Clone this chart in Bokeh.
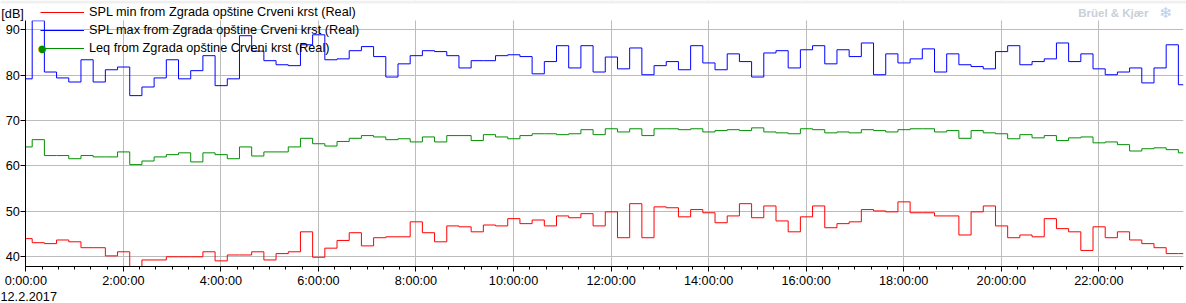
import numpy as np
from bokeh.plotting import figure
from bokeh.models import Range1d, FixedTicker, Legend, LegendItem, Label, BoxAnnotation
from bokeh.embed import file_html
from bokeh.resources import INLINE

# ---- data -------------------------------------------------------------
# 15-minute intervals; first interval starts 0.119 h before midnight
interval_start_h = -0.119
interval_len_h = 0.25

spl_max = [79.2, 92.0, 80.7, 79.4, 78.5, 83.4, 78.5, 81.2, 81.8, 75.5, 77.4, 79.4,
           83.4, 79.2, 81.0, 84.3, 77.7, 79.2, 88.7, 85.3, 83.2, 82.3, 82.1, 86.7,
           88.9, 83.4, 83.6, 85.4, 86.3, 84.1, 79.6, 82.5, 84.3, 85.4, 85.2, 84.3,
           81.6, 83.2, 83.2, 84.3, 84.5, 84.1, 80.3, 83.0, 86.5, 81.6, 86.5, 80.7,
           84.0, 81.4, 86.0, 80.1, 82.1, 83.0, 81.2, 86.5, 82.7, 81.2, 84.7, 83.0,
           79.6, 84.9, 85.4, 81.6, 85.6, 86.5, 82.5, 85.6, 84.1, 87.1, 80.1, 84.7,
           82.7, 83.6, 85.8, 80.7, 84.7, 82.3, 81.9, 81.4, 85.2, 86.5, 82.3, 83.0,
           83.6, 87.1, 83.0, 84.7, 81.4, 80.1, 80.7, 81.6, 78.3, 81.6, 86.7, 77.9]

leq = [64.2, 65.8, 62.3, 62.3, 61.6, 62.3, 62.0, 62.0, 63.1, 60.3, 61.1, 62.0,
       62.5, 62.9, 60.9, 62.9, 62.5, 61.6, 64.2, 62.2, 63.1, 63.1, 64.2, 66.1,
       64.9, 64.4, 65.4, 66.1, 66.7, 66.4, 65.8, 66.0, 65.3, 66.4, 65.3, 66.7,
       66.7, 65.6, 66.9, 66.4, 66.0, 66.7, 67.1, 67.1, 66.9, 67.1, 68.0, 66.9,
       68.2, 67.5, 68.2, 66.7, 68.2, 68.2, 68.0, 68.2, 67.5, 67.8, 68.0, 67.8,
       68.4, 67.5, 67.3, 67.1, 68.2, 68.0, 67.3, 67.5, 67.3, 68.0, 67.8, 67.5,
       68.0, 68.2, 68.2, 67.5, 67.8, 66.1, 67.8, 67.3, 67.1, 66.0, 66.9, 66.2,
       66.7, 65.6, 66.2, 66.4, 65.1, 65.3, 64.7, 63.3, 63.8, 64.0, 63.6, 62.9]

spl_min = [44.0, 43.1, 42.9, 43.7, 43.3, 42.0, 42.0, 40.2, 41.1, 37.0, 39.3, 39.3,
           40.0, 40.0, 40.0, 41.1, 39.1, 40.4, 40.4, 41.1, 39.3, 40.7, 41.1, 45.5,
           39.9, 41.9, 43.6, 45.3, 42.4, 44.2, 44.4, 44.4, 47.7, 45.3, 43.3, 46.8,
           46.6, 45.5, 47.0, 46.8, 48.4, 47.3, 48.1, 46.8, 49.0, 48.6, 49.5, 46.8,
           49.9, 44.2, 51.7, 44.2, 51.0, 50.8, 48.8, 50.4, 49.7, 47.5, 49.0, 51.7,
           48.6, 51.2, 47.9, 45.5, 48.8, 51.2, 46.4, 47.3, 47.7, 50.4, 50.1, 49.9,
           52.1, 49.7, 49.7, 49.0, 49.0, 44.8, 49.9, 51.2, 46.8, 44.2, 44.8, 44.4,
           48.4, 46.2, 45.5, 41.4, 46.6, 44.2, 45.5, 43.7, 42.9, 42.0, 40.7, 40.7]

x_ticks_h = [0, 2, 4, 6, 8, 10, 12, 14, 16, 18, 20, 22]
x_tick_labels = ["0:00:00", "2:00:00", "4:00:00", "6:00:00", "8:00:00", "10:00:00",
                 "12:00:00", "14:00:00", "16:00:00", "18:00:00", "20:00:00", "22:00:00"]
y_ticks = [40, 50, 60, 70, 80, 90]
x_lim = (0.0, 23.73)
y_lim = (37.86, 92.05)
date_label = "12.2.2017"
unit_label = "[dB]"
brand_label = "Brüel & Kjær"
series_names = ["SPL min from Zgrada opštine Crveni krst (Real)",
                "SPL max from Zgrada opštine Crveni krst (Real)",
                "Leq from Zgrada opštine Crveni krst (Real)"]

# ---- layout (pixels) --------------------------------------------------
W, H = 1186, 303
PL, PR, PT, PB = 25.3, 1182.7, 20.0, 266.0      # plotting area inside the canvas
kx = (PR - PL) / (x_lim[1] - x_lim[0])
ky = (PB - PT) / (y_lim[1] - y_lim[0])
xr = Range1d(x_lim[0] - PL / kx, x_lim[1] + (W - PR) / kx)
yr = Range1d(y_lim[0] - (H - PB) / ky, y_lim[1] + PT / ky)

FONT = "Liberation Sans"
FS = "12.7px"

p = figure(width=W, height=H, output_backend="svg", toolbar_location=None,
           x_range=xr, y_range=yr,
           min_border_left=0, min_border_right=0, min_border_top=0, min_border_bottom=0)
p.outline_line_color = None
p.background_fill_color = "white"
p.border_fill_color = "white"

def step_xy(vals):
    n = len(vals)
    xs = interval_start_h + interval_len_h * np.arange(n + 1)
    ys = list(vals) + [vals[-1]]
    return xs, ys

xs, ys = step_xy(spl_min)
r_min = p.step(xs, ys, mode="after", line_color="#ff0000", line_width=1)
xs, ys = step_xy(spl_max)
r_max = p.step(xs, ys, mode="after", line_color="#0000ff", line_width=1)
xs, ys = step_xy(leq)
r_leq = p.step(xs, ys, mode="after", line_color="#008f00", line_width=1)

# white masks around the plotting area (drawn above glyphs, below axes)
for kw in (dict(right=x_lim[0]), dict(left=x_lim[1]),
           dict(bottom=y_lim[1]), dict(top=y_lim[0])):
    p.add_layout(BoxAnnotation(fill_color="white", fill_alpha=1, line_color=None,
                               level="glyph", **kw))
p.add_layout(BoxAnnotation(bottom=yr.end - 3 / ky, fill_color="#f0f0f0", fill_alpha=1,
                           line_color=None, level="glyph"))

# axes, fixed at the plotting-area edges
xa = p.xaxis[0]
xa.fixed_location = y_lim[0]
xa.bounds = x_lim
xa.ticker = FixedTicker(ticks=x_ticks_h, minor_ticks=[k / 3 for k in range(72)])
xa.major_label_overrides = {t: l for t, l in zip(x_ticks_h, x_tick_labels)}
ya = p.yaxis[0]
ya.fixed_location = x_lim[0]
ya.bounds = y_lim
ya.ticker = FixedTicker(ticks=y_ticks, minor_ticks=[])
for ax in (xa, ya):
    ax.axis_line_color = "black"
    ax.major_tick_line_color = "black"
    ax.minor_tick_line_color = "black"
    ax.major_tick_in = 0
    ax.major_tick_out = 5
    ax.minor_tick_in = 0
    ax.minor_tick_out = 3
    ax.major_label_text_font = FONT
    ax.major_label_text_font_size = FS
    ax.major_label_text_color = "black"
xa.major_label_standoff = 2
ya.major_label_standoff = 1

p.xgrid.ticker = FixedTicker(ticks=x_ticks_h)
p.ygrid.ticker = FixedTicker(ticks=y_ticks)
for g in (p.xgrid[0], p.ygrid[0]):
    g.grid_line_color = "#bcbcbc"
    g.grid_line_width = 1

# legend
legend = Legend(items=[LegendItem(label=series_names[0], renderers=[r_min]),
                       LegendItem(label=series_names[1], renderers=[r_max]),
                       LegendItem(label=series_names[2], renderers=[r_leq])],
                location=(40.0, H - 57.3), padding=0, margin=0, spacing=0,
                glyph_width=44, glyph_height=18, label_height=18, label_standoff=5,
                label_text_font=FONT, label_text_font_size=FS,
                label_text_color="black",
                border_line_color=None, background_fill_alpha=0)
p.add_layout(legend, "center")

def lab(cx, cy, **kw):
    p.add_layout(Label(x=cx, y=H - cy, x_units="screen", y_units="screen", **kw))

lab(41.7, 48.3, text="●", text_color="#008f00", text_font="DejaVu Sans",
    text_font_size="10px", text_align="center", text_baseline="middle")
lab(0.8, 13.3, text=unit_label, text_font=FONT, text_font_size=FS,
    text_color="black", text_align="left", text_baseline="middle")
lab(0.0, 296.0, text=date_label, text_font=FONT, text_font_size=FS,
    text_color="black", text_align="left", text_baseline="middle")
lab(1077.7, 12.3, text=brand_label, text_font=FONT, text_font_size="11.5px",
    text_font_style="bold", text_color="#c9cfd8", text_align="left", text_baseline="middle")
lab(1165.0, 12.5, text="❄", text_font="DejaVu Sans", text_font_size="15px",
    text_color="#b9cdee", text_align="center", text_baseline="middle")

open("out.html", "w").write(file_html(p, INLINE))
